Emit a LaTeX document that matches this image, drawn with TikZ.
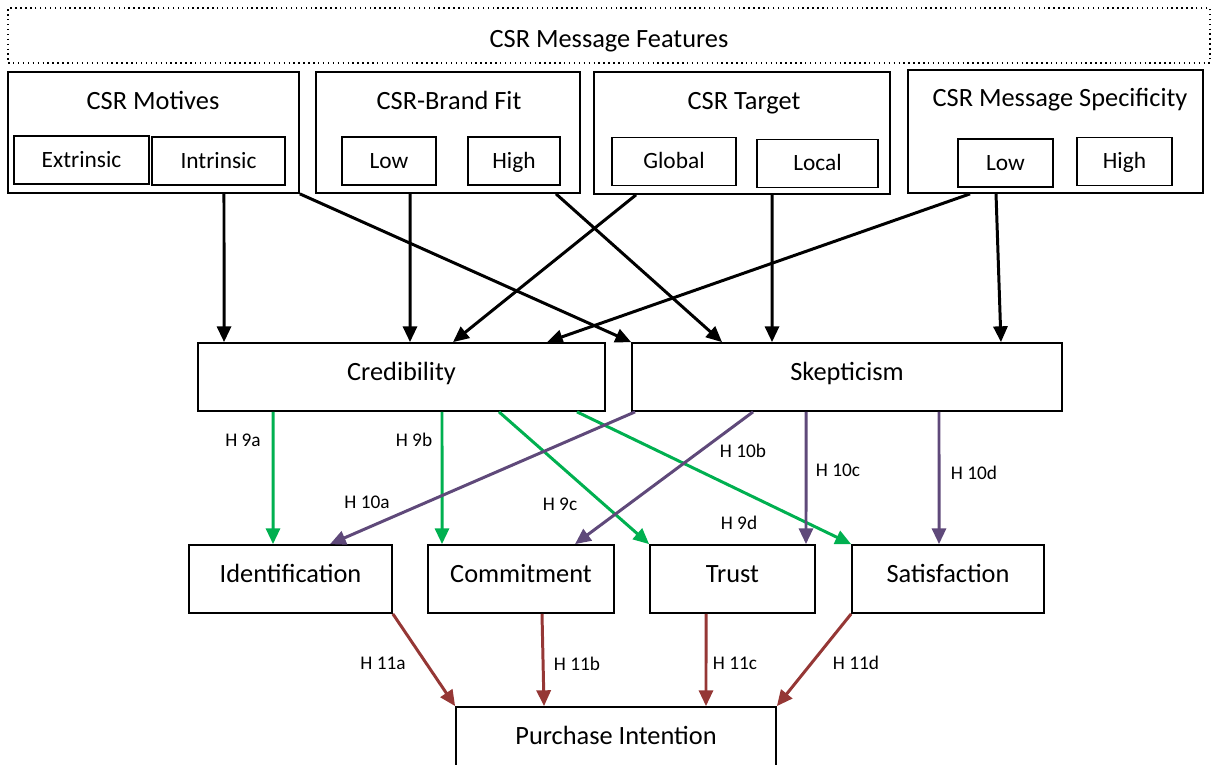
\documentclass[tikz,border=0pt]{standalone}
\usepackage{fontspec}
\setmainfont{Carlito}
\usetikzlibrary{arrows.meta}
\definecolor{hgreen}{HTML}{00B050}
\definecolor{hpurple}{HTML}{5F497A}
\definecolor{hred}{HTML}{953735}

\begin{document}
\begin{tikzpicture}[x=0.02cm,y=-0.02cm]
    \tikzstyle{box}=[draw,line width=1pt,rectangle,inner sep=0pt]
    \tikzstyle{group}=[box,minimum height=2.42cm]
    \tikzstyle{level}=[box,minimum height=0.96cm,font=\fontsize{13.3}{15}\selectfont,text height=9pt,text depth=1pt]
    \tikzstyle{construct}=[box,minimum height=1.36cm,font=\fontsize{15}{18}\selectfont,text height=10.5pt,text depth=6.5pt]
    \tikzstyle{title}=[font=\fontsize{15}{18}\selectfont,text height=10.5pt,text depth=3pt]
    \tikzstyle{hyp}=[font=\fontsize{11}{13}\selectfont]
    \tikzstyle{link}=[line width=1.7pt,-{Triangle[length=9pt,width=8pt]}]
    \useasboundingbox (0,0) rectangle (1212,764);

    \node[draw,dotted,line width=0.8pt,minimum width=24.04cm,minimum height=1.1cm,title,text height=14pt,text depth=0pt] (features) at (609,35.5) {CSR Message Features};

    \node[group,minimum width=5.82cm] (motives) at (153.5,132.5) {};
    \node[title] (motivest) at (153,103) {CSR Motives};
    \node[level,minimum width=2.7cm] (extr) at (81.5,160) {Extrinsic};
    \node[level,minimum width=2.66cm] (intr) at (218.5,161) {Intrinsic};

    \node[group,minimum width=5.28cm] (fit) at (448,132.5) {};
    \node[title] (fitt) at (449,103) {CSR-Brand Fit};
    \node[level,minimum width=1.88cm] (fitlow) at (389,161) {Low};
    \node[level,minimum width=1.84cm] (fithigh) at (514,161) {High};

    \node[group,minimum width=5.92cm,minimum height=2.44cm] (target) at (742,133) {};
    \node[title] (targett) at (744,103) {CSR Target};
    \node[level,minimum width=2.48cm] (global) at (674,161.5) {Global};
    \node[level,minimum width=2.42cm] (local) at (817.5,163.5) {Local};

    \node[group,minimum width=5.9cm,minimum height=2.46cm] (spec) at (1055.5,131.5) {};
    \node[title] (spect) at (1060,100) {CSR Message Specificity};
    \node[level,minimum width=1.9cm] (speclow) at (1005.5,163) {Low};
    \node[level,minimum width=1.9cm] (spechigh) at (1124.5,161.5) {High};

    \node[construct,minimum width=8.14cm] (cred) at (401.5,377) {Credibility};
    \node[construct,minimum width=8.6cm] (skep) at (847,377) {Skepticism};

    \node[construct,minimum width=4.06cm] (ident) at (290.5,579) {Identification};
    \node[construct,minimum width=3.72cm] (commit) at (521,579) {Commitment};
    \node[construct,minimum width=3.3cm] (trust) at (732.5,579) {Trust};
    \node[construct,minimum width=3.84cm] (satis) at (948,579) {Satisfaction};

    \node[construct,minimum width=6.4cm] (purch) at (616,741) {Purchase Intention};

    \draw[link] ([xshift=1.41cm]motives.south) -- ([xshift=-3.55cm]cred.north);
    \draw[link] (motives.south east) -- (skep.north west);
    \draw[link] ([xshift=-0.76cm]fit.south) -- ([xshift=0.17cm]cred.north);
    \draw[link] ([xshift=2.16cm]fit.south) -- ([xshift=-2.5cm]skep.north);
    \draw[link] ([xshift=-2.12cm]target.south) -- ([xshift=1.03cm]cred.north);
    \draw[link] ([xshift=0.6cm]target.south) -- ([xshift=-1.5cm]skep.north);
    \draw[link] ([xshift=-1.71cm]spec.south) -- ([xshift=2.91cm]cred.north);
    \draw[link] ([xshift=-1.19cm]spec.south) -- ([xshift=3.08cm]skep.north);

    \draw[link,hgreen] ([xshift=-2.57cm]cred.south) -- ([xshift=-0.35cm]ident.north);
    \draw[link,hgreen] ([xshift=0.81cm]cred.south) -- ([xshift=-1.58cm]commit.north);
    \draw[link,hgreen] ([xshift=1.95cm]cred.south) -- (trust.north west);
    \draw[link,hgreen] ([xshift=3.51cm]cred.south) -- (satis.north west);

    \draw[link,hpurple] ([xshift=-4.24cm]skep.south) -- ([xshift=0.79cm]ident.north);
    \draw[link,hpurple] ([xshift=-1.88cm]skep.south) -- ([xshift=1.08cm]commit.north);
    \draw[link,hpurple] ([xshift=-0.82cm]skep.south) -- ([xshift=1.47cm]trust.north);
    \draw[link,hpurple] ([xshift=1.84cm]skep.south) -- ([xshift=-0.18cm]satis.north);

    \draw[link,hred] (ident.south east) -- (purch.north west);
    \draw[link,hred] ([xshift=0.42cm]commit.south) -- ([xshift=-1.44cm]purch.north);
    \draw[link,hred] ([xshift=-0.53cm]trust.south) -- ([xshift=1.8cm]purch.north);
    \draw[link,hred] (satis.south west) -- (purch.north east);

    \node[hyp] (h9a) at (243,440) {H 9a};
    \node[hyp] (h9b) at (414,440) {H 9b};
    \node[hyp] (h9c) at (560,504) {H 9c};
    \node[hyp] (h9d) at (739,523) {H 9d};
    \node[hyp] (h10a) at (367,502) {H 10a};
    \node[hyp] (h10b) at (743,451) {H 10b};
    \node[hyp] (h10c) at (838,470) {H 10c};
    \node[hyp] (h10d) at (974,473) {H 10d};
    \node[hyp] (h11a) at (383,663) {H 11a};
    \node[hyp] (h11b) at (577,664) {H 11b};
    \node[hyp] (h11c) at (735,663) {H 11c};
    \node[hyp] (h11d) at (856,663) {H 11d};
\end{tikzpicture}
\end{document}
